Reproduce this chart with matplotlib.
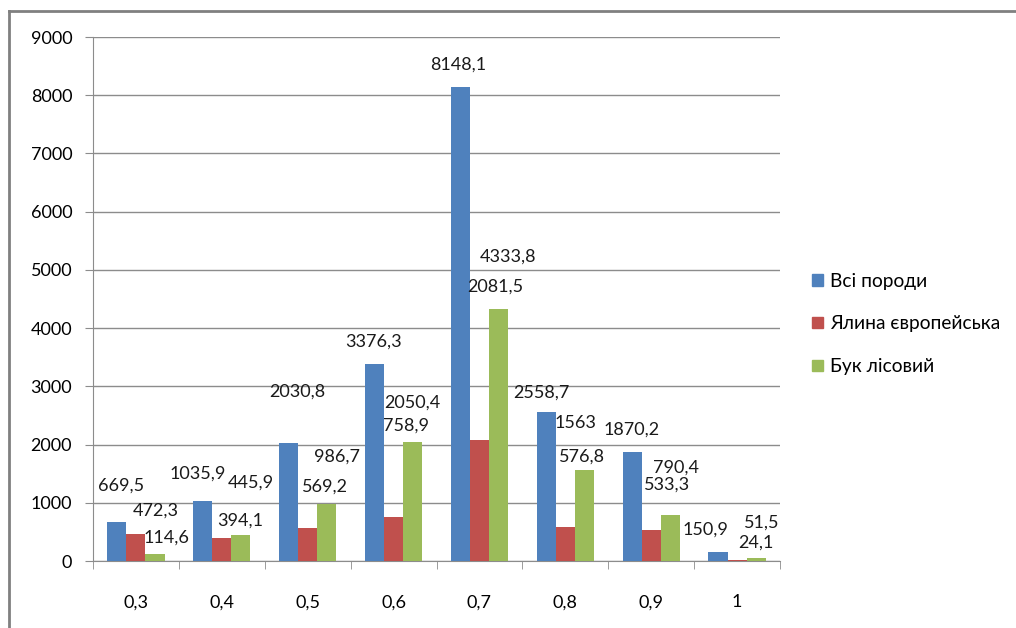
import numpy as np
import matplotlib
matplotlib.use("Agg")
import matplotlib.pyplot as plt
from matplotlib.patches import Patch
from matplotlib.lines import Line2D

plt.rcParams["font.family"] = ["Lato", "Noto Sans", "DejaVu Sans"]

# -------------------------------
# Data
# -------------------------------
categories = ["0,3", "0,4", "0,5", "0,6", "0,7", "0,8", "0,9", "1"]
series_names = ["Всі породи", "Ялина європейська", "Бук лісовий"]
all_species = [669.5, 1035.9, 2030.8, 3376.3, 8148.1, 2558.7, 1870.2, 150.9]
spruce = [472.3, 394.1, 569.2, 758.9, 2081.5, 576.8, 533.3, 24.1]
beech = [114.6, 445.9, 986.7, 2050.4, 4333.8, 1563, 790.4, 51.5]
colors = ["#4F81BD", "#C0504D", "#9BBB59"]

# label placement as in the source (labels were shifted by hand there)
label_dx_px = [
    [-15, -24, -10, -20, -21, -24, -20, -32],
    [20, 18, 17, 12, 16, 17, 16, 19],
    [31, 29, 29, 19, 29, 10, 25, 25],
]
label_y = [
    [1288, 1494, 2903, 3762, 8519, 2886, 2250, 532],
    [859, 687, 1271, 2319, 4706, 1786, 1305, 309],
    [395, 1340, 1786, 2714, 5222, 2370, 1597, 653],
]

# -------------------------------
# Figure
# -------------------------------
fig = plt.figure(figsize=(10.16, 6.28), dpi=100)
ax = fig.add_axes([93 / 1016, 67 / 628, 687 / 1016, 524 / 628])

x = np.arange(len(categories))
width = 1 / 4.5
values = [all_species, spruce, beech]
for k, (vals, col) in enumerate(zip(values, colors)):
    ax.bar(x + (k - 1) * width, vals, width, color=col, zorder=3)
    for i, v in enumerate(vals):
        txt = f"{v:g}".replace(".", ",")
        ax.annotate(txt, xy=(i, label_y[k][i]), xytext=(label_dx_px[k][i], 0),
                    textcoords="offset pixels", ha="center", va="center",
                    fontsize=13, color="#1a1a1a", zorder=4)

ax.set_xlim(-0.5, len(categories) - 0.5)
ax.set_ylim(0, 9000)
ax.set_yticks(np.arange(0, 9001, 1000))
ax.yaxis.grid(True, color="#8c8c8c", linewidth=1.0, zorder=0)

ax.set_xticks(x)
ax.set_xticklabels(categories)
ax.set_xticks(np.arange(-0.5, len(categories)), minor=True)
ax.tick_params(axis="x", which="major", length=0, pad=24, labelsize=13)
ax.tick_params(axis="x", which="minor", length=6, color="#8c8c8c", direction="out")
ax.tick_params(axis="y", length=6, color="#8c8c8c", pad=9, labelsize=13)

for s in ["top", "right"]:
    ax.spines[s].set_visible(False)
for s in ["left", "bottom"]:
    ax.spines[s].set_color("#8c8c8c")

handles = [Patch(color=c) for c in colors]
fig.legend(handles, series_names, loc="center left",
           bbox_to_anchor=(812 / 1016, 1 - 324 / 628), frameon=False,
           fontsize=13.8, handlelength=0.55, handleheight=0.55, handletextpad=0.4,
           labelspacing=1.35, borderpad=0, borderaxespad=0)

# outer frame (top and left edges visible in the source)
fig.add_artist(Line2D([9 / 1016, 1], [1 - 11 / 628, 1 - 11 / 628],
                      transform=fig.transFigure, color="#808080", linewidth=2))
fig.add_artist(Line2D([9 / 1016, 9 / 1016], [0, 1 - 11 / 628],
                      transform=fig.transFigure, color="#808080", linewidth=2))

fig.savefig("out.png", dpi=100)
